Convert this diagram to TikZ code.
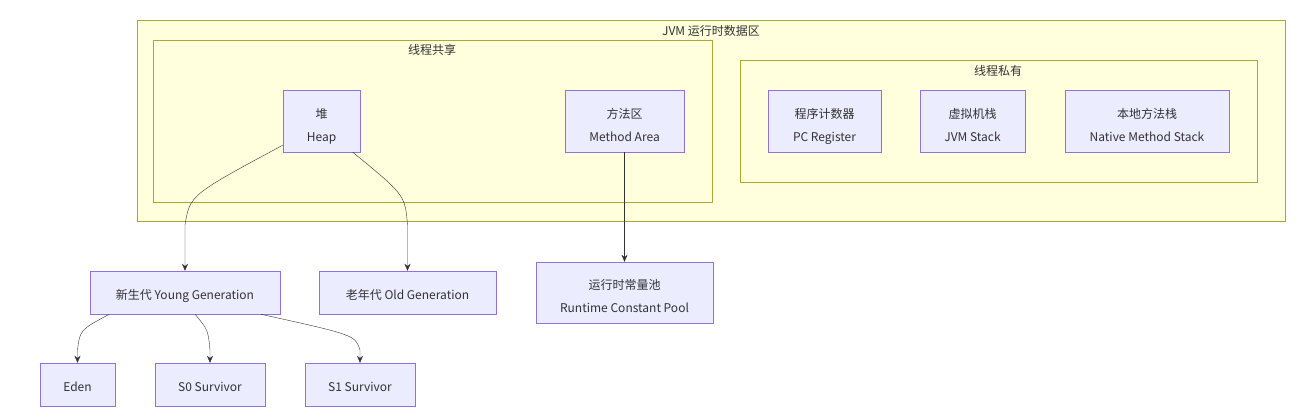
\documentclass[tikz,border=0pt]{standalone}
\usepackage{fontspec}
\setmainfont{Noto Sans CJK SC}
\usetikzlibrary{arrows.meta}
\definecolor{boite}{HTML}{ECECFF}
\definecolor{bordboite}{HTML}{9370DB}
\definecolor{zone}{HTML}{FFFFDE}
\definecolor{bordzone}{HTML}{AAAA33}
\definecolor{texte}{HTML}{333333}
\begin{document}
\begin{tikzpicture}[x=1pt, y=-1pt,
  font=\fontsize{12}{23}\selectfont, text=texte,
  bloc/.style={draw=bordboite, fill=boite, inner sep=0pt, align=center, text depth=0pt, text height=14pt},
  blocdouble/.style={bloc, text height=40pt},
  cadre/.style={draw=bordzone, fill=zone},
  fleche/.style={draw=texte, -{Stealth[length=7pt,width=6pt]}}]
\useasboundingbox (0,0) rectangle (1306,420);

% les zones
\draw[cadre] (137,20) rectangle (1285,221);
\node (titre) at (711,31) {JVM 运行时数据区};
\draw[cadre] (153,40) rectangle (712,202);
\node (partage) at (432,50) {线程共享};
\draw[cadre] (740,60) rectangle (1257,182);
\node (prive) at (998,71) {线程私有};

% partie commune
\node[blocdouble, minimum width=77, minimum height=62] (tas) at (321.5,121) {堆\\Heap};
\node[blocdouble, minimum width=119, minimum height=62] (methode) at (624.5,121) {方法区\\Method Area};

% partie propre à chaque thread
\node[blocdouble, minimum width=113, minimum height=62] (pc) at (824.5,121) {程序计数器\\PC Register};
\node[blocdouble, minimum width=105, minimum height=62] (pile) at (972.5,121) {虚拟机栈\\JVM Stack};
\node[blocdouble, minimum width=164, minimum height=62] (native) at (1147,121) {本地方法栈\\Native Method Stack};

% sous le tas et la zone des méthodes
\node[bloc, minimum width=190, minimum height=43] (jeune) at (185,292.5) {新生代 Young Generation};
\node[bloc, minimum width=177, minimum height=43] (vieux) at (407.5,292.5) {老年代 Old Generation};
\node[blocdouble, minimum width=177, minimum height=61] (pool) at (624.5,292.5) {运行时常量池\\Runtime Constant Pool};

\node[bloc, minimum width=75, minimum height=43] (eden) at (77.5,384.5) {Eden};
\node[bloc, minimum width=110, minimum height=43] (szero) at (210,384.5) {S0 Survivor};
\node[bloc, minimum width=110, minimum height=43] (sun) at (360,384.5) {S1 Survivor};

% les flèches
\draw[fleche] (tas.212) .. controls (190,195) .. (185,225) -- (jeune.north);
\draw[fleche] (tas.-45) .. controls (405,195) .. (407.5,225) -- (vieux.north);
\draw[fleche] (methode.south) -- (pool.north);
\draw[fleche] (jeune.196) .. controls (80,330) .. (77.5,350) -- (eden.north);
\draw[fleche] (jeune.295) .. controls (208,330) .. (210,350) -- (szero.north);
\draw[fleche] (jeune.344) .. controls (355,335) .. (360,350) -- (sun.north);
\end{tikzpicture}
\end{document}
